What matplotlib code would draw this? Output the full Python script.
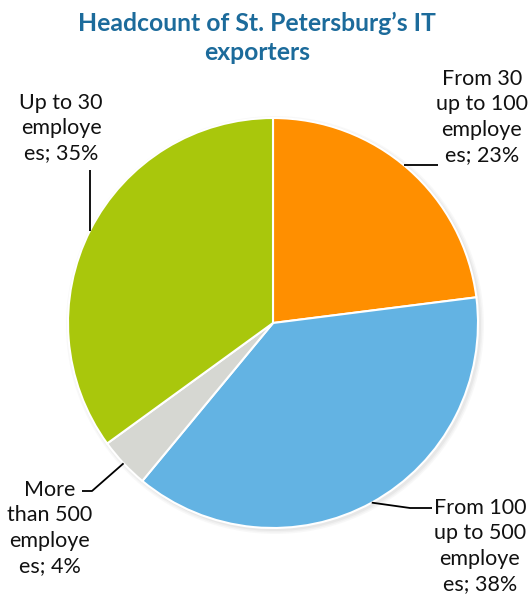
import numpy as np
import matplotlib
matplotlib.use("Agg")
import matplotlib.pyplot as plt
from matplotlib.patches import Circle

# Data: share of IT exporters by headcount (clockwise from 12 o'clock)
categories = ["From 30\nup to 100\nemploye\nes", "From 100\nup to 500\nemploye\nes",
              "More\nthan 500\nemploye\nes", "Up to 30\nemploye\nes"]
shares = [23, 38, 4, 35]
colors = ["#FF8F00", "#63B3E3", "#D6D7D2", "#A9C70C"]
title = "Headcount of St. Petersburg\u2019s IT\nexporters"

W, H = 532, 601
plt.rcParams['font.family'] = ['Lato', 'DejaVu Sans']

fig = plt.figure(figsize=(W / 100, H / 100), dpi=100)
ax = fig.add_axes([0, 0, 1, 1])

cx, cy, r = 273, H - 323, 205

# soft drop shadow under the pie
for k, a in enumerate([0.05, 0.06, 0.08]):
    ax.add_patch(Circle((cx + 2, cy - 2), r + 4 - k * 1.5, color="#808080",
                        alpha=a, lw=0, zorder=0))

wedges, _ = ax.pie(shares, colors=colors, startangle=90, counterclock=False,
                   center=(cx, cy), radius=r,
                   wedgeprops=dict(edgecolor="white", linewidth=1.5))

ax.set_xlim(0, W)
ax.set_ylim(0, H)
ax.set_aspect("equal")
ax.axis("off")

def label_text(i):
    return f"{categories[i]}; {shares[i]}%"

# label position, leader elbow points (pixel coords from the top-left)
layout = [
    dict(text=(482, 117), path=[(438, 165)]),
    dict(text=(480, 546), path=[(410, 508), (432, 508)]),
    dict(text=(50, 528), path=[(92, 491), (82, 491)]),
    dict(text=(61, 128), path=[(90, 170)]),
]

txtkw = dict(fontsize=15.5, color="#111111", ha="center", va="center",
             linespacing=1.32)
for i, w in enumerate(wedges):
    mid = np.deg2rad((w.theta1 + w.theta2) / 2)
    ax0, ay0 = cx + r * np.cos(mid), cy + r * np.sin(mid)
    pts = [(ax0, ay0)] + [(x, H - y) for x, y in layout[i]["path"]]
    if i == 0:
        # horizontal leader from the rim to the label
        yh = pts[1][1]
        pts = [(cx + np.sqrt(r ** 2 - (yh - cy) ** 2), yh), pts[1]]
    if i == 3:
        # vertical leader from the rim up to the label
        xv = pts[1][0]
        pts[0] = (xv, cy + np.sqrt(r ** 2 - (xv - cx) ** 2))
    xs, ys = zip(*pts)
    ax.plot(xs, ys, color="black", lw=1.3, solid_capstyle="butt")
    tx, ty = layout[i]["text"]
    ax.text(tx, H - ty, label_text(i), **txtkw)

ax.text(257, H - 38, title, fontsize=17.8, fontweight="bold", color="#1C6B9B",
        ha="center", va="center", linespacing=1.33)

fig.savefig("out.png", dpi=100)
